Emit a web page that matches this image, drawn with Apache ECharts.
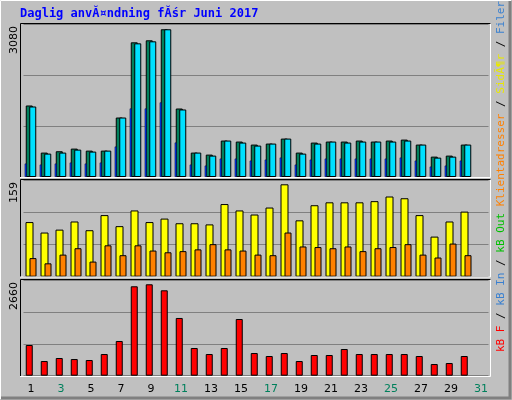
<!DOCTYPE html>
<html><head><meta charset="utf-8">
<script src="https://cdn.jsdelivr.net/npm/echarts@6/dist/echarts.min.js"></script>
<style>html,body{margin:0;padding:0;background:#C0C0C0}#c{width:512px;height:400px}</style>
</head><body><div id="c"></div>
<script>
const days = ['1','2','3','4','5','6','7','8','9','10','11','12','13','14','15','16','17','18','19','20','21','22','23','24','25','26','27','28','29','30','31'];
const weekendDays = ['3','4','10','11','17','18','24','25','31'];
const hits  = [1491,509,537,592,550,550,1240,2808,2850,3080,1428,509,467,760,739,676,697,801,509,718,739,739,760,739,760,780,676,425,446,676,null];
const files = [1470,488,509,571,530,550,1240,2787,2829,3080,1408,509,446,760,718,655,697,801,488,697,739,718,739,739,739,760,676,404,425,676,null];
const pages = [279,258,279,300,279,300,634,1428,1428,1554,718,258,237,383,383,341,362,404,258,362,383,383,383,383,383,404,341,216,237,341,null];
const visits = [94,76,81,95,80,106,87,114,94,100,92,92,90,125,114,107,119,159,97,123,128,128,128,130,138,135,106,69,95,112,null];
const sites  = [32,23,38,49,26,54,37,54,45,42,44,47,56,47,45,38,37,76,52,51,49,52,44,49,51,56,38,33,57,37,null];
const kbytes = [893,427,515,485,456,631,1010,2602,2660,2485,1680,806,631,806,1650,660,573,660,427,602,602,777,631,631,631,631,573,340,369,573,null];
const yTickLabels = ['3080','159','2660'];
const title = 'Daglig anvĂ¤ndning fĂśr Juni 2017';

const chart = echarts.init(document.getElementById('c'), null, {renderer:'canvas'});
const L = 23.5, W = 465;
const panels = [{top:24,h:153,max:3190},{top:180,h:96.7,max:166.4},{top:280,h:95.7,max:2785}];
const grids = panels.map(p=>({left:L,width:W,top:p.top,height:p.h}));
const xAxes = [], yAxes = [];
const mkX = (gi, show) => ({type:'category', gridIndex:gi, data:days, boundaryGap:true, show:show,
  axisLine:{show:false}, axisTick:{show:false},
  axisLabel:{show:show, margin:8, fontFamily:'DejaVu Sans', fontSize:11,
    color:(v)=>weekendDays.includes(v)?'#00805C':'#000000'}});
xAxes.push(mkX(0,false), mkX(0,false), mkX(1,false), mkX(2,true));
panels.forEach((p,i)=>yAxes.push({type:'value', gridIndex:i, min:0, max:p.max, interval:p.max/3,
  axisLabel:{show:false}, axisLine:{show:false}, axisTick:{show:false},
  splitLine:{show:true, lineStyle:{color:'#808080', width:1}}}));
yAxes.push({type:'value', gridIndex:0, min:0, max:panels[0].max, show:false});
const edge = {borderColor:'#000', borderWidth:1};
const series = [
  {type:'bar', xAxisIndex:0, yAxisIndex:0, data:hits, barWidth:7, barGap:'-50%', itemStyle:{color:'#00805C', ...edge}},
  {type:'bar', xAxisIndex:0, yAxisIndex:0, data:files, barWidth:7, barGap:'-50%', itemStyle:{color:'#00E0FF', ...edge}},
  {type:'bar', xAxisIndex:1, yAxisIndex:3, data:pages, barWidth:2, barGap:'0%', z:5, itemStyle:{color:'#0040FF', borderColor:'#000030', borderWidth:0.5}},
  {type:'bar', xAxisIndex:1, yAxisIndex:3, data:[], barWidth:10.6, barGap:'0%'},
  {type:'bar', xAxisIndex:2, yAxisIndex:1, data:visits, barWidth:8, barGap:'-50%', itemStyle:{color:'#FFFF00', ...edge}},
  {type:'bar', xAxisIndex:2, yAxisIndex:1, data:sites, barWidth:7, barGap:'-50%', itemStyle:{color:'#FF8000', ...edge}},
  {type:'bar', xAxisIndex:3, yAxisIndex:2, data:kbytes, barWidth:7, barGap:'-50%', itemStyle:{color:'#FF0000', ...edge}},
  {type:'bar', xAxisIndex:3, yAxisIndex:2, data:[], barWidth:7, barGap:'-50%'}
];
const g = [];
// outer bevel
g.push({type:'rect', shape:{x:0,y:0,width:512,height:400}, style:{fill:'#C0C0C0'}, z:-10});
g.push({type:'polyline', shape:{points:[[0.5,399],[0.5,0.5],[511,0.5]]}, style:{stroke:'#FFFFFF', lineWidth:1, fill:null}, z:-9});
g.push({type:'polyline', shape:{points:[[1,398],[510,398],[510,1]]}, style:{stroke:'#808080', lineWidth:3, fill:null}, z:-9});
// panel frames
const PX0 = 20, PX1 = 491;
const pr = [[23.5,177.5],[179.5,277],[279.5,376.5]];
pr.forEach(([t,b])=>{
  g.push({type:'polyline', shape:{points:[[PX0+0.5,b],[PX0+0.5,t],[PX1,t]]}, style:{stroke:'#000',lineWidth:1,fill:null}, z:20});
  g.push({type:'polyline', shape:{points:[[PX0,b],[PX1-0.5,b],[PX1-0.5,t]]}, style:{stroke:'#FFFFFF',lineWidth:1,fill:null}, z:20});
});
// title
g.push({type:'text', x:20, y:8, style:{text:title, fill:'#0000FF', font:'bold 12px "DejaVu Sans Mono"'}});
// y tick labels
[[24,0],[180,1],[280,2]].forEach(([t,i])=>g.push({type:'text', x:9, y:t+2, rotation:Math.PI/2,
  style:{text:yTickLabels[i], fill:'#000', font:'11px "DejaVu Sans"', align:'right', verticalAlign:'top'}}));
// right legend (rotated, reading bottom to top)
g.push({type:'text', x:496, y:352, rotation:Math.PI/2,
  style:{text:'{r|kB F} / {b|kB In} / {gr|kB Out} {o|Klientadresser} / {y|SidĂ¶r} / {b|Filer} / {t|TrĂ¤ffar}',
    font:'11px "DejaVu Sans Mono"', fill:'#000', align:'left', verticalAlign:'top',
    rich:{r:{fill:'#FF0000',font:'11px "DejaVu Sans Mono"'}, b:{fill:'#3A80D0',font:'11px "DejaVu Sans Mono"'},
      gr:{fill:'#00C000',font:'11px "DejaVu Sans Mono"'}, o:{fill:'#FF8000',font:'11px "DejaVu Sans Mono"'},
      y:{fill:'#E8E800',font:'11px "DejaVu Sans Mono"'}, t:{fill:'#00805C',font:'11px "DejaVu Sans Mono"'}}}});
chart.setOption({animation:false, backgroundColor:'#C0C0C0', grid:grids, xAxis:xAxes, yAxis:yAxes, series:series, graphic:g});
</script></body></html>
